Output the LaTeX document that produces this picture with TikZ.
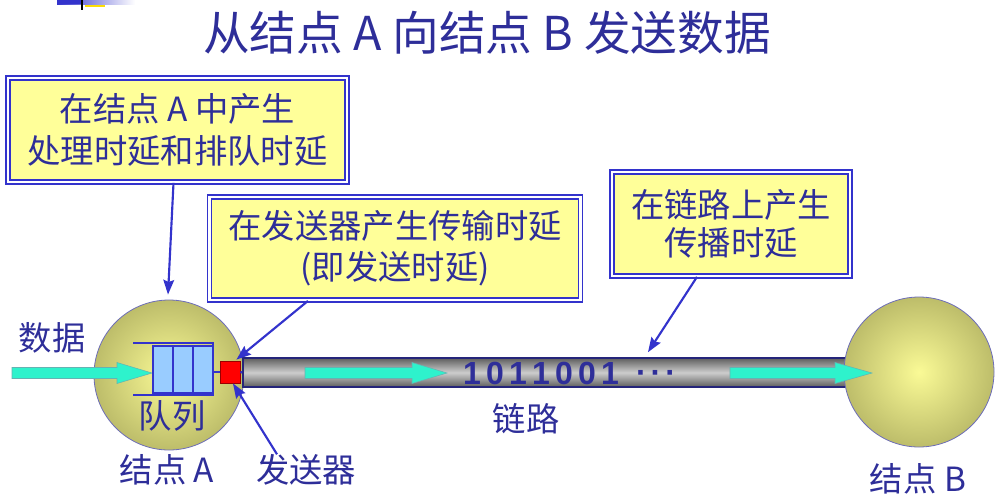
\documentclass[tikz,border=0pt]{standalone}
\usepackage{fontspec}
\setmainfont{Noto Sans CJK SC}
\newfontfamily\bitfont{Liberation Sans}
\usepackage{tikz}
\usetikzlibrary{calc,arrows.meta,positioning}
\definecolor{navy}{HTML}{2E2E99}
\definecolor{lineblue}{HTML}{3333CC}
\definecolor{boxfill}{HTML}{FFFF99}
\definecolor{ballin}{HTML}{FAFA96}
\definecolor{ballout}{HTML}{BDBD6A}
\definecolor{pipedark}{HTML}{5E5E5E}
\definecolor{pipelight}{HTML}{CDCDCD}
\definecolor{flow}{HTML}{2EF2CC}
\definecolor{cell}{HTML}{99CCFF}
\definecolor{logoblue}{HTML}{3333CC}
\tikzset{
  note/.style={draw=lineblue, double=white, double distance=1.6pt, line width=1.3pt, fill=boxfill, text=navy, align=center, font=\fontsize{25}{31}\selectfont, inner sep=0pt},
  ball/.style={circle, draw=navy!70, line width=0.6pt, inner color=ballin, outer color=ballout, minimum size=112.5pt, inner sep=0pt},
  lab/.style={text=navy, font=\fontsize{25}{30}\selectfont, inner sep=0pt},
  pointer/.style={draw=lineblue, line width=1.6pt, -{Stealth[length=11pt, width=8pt, inset=1.5pt]}},
  flowarrow/.style={fill=flow, draw=teal!60, line width=0.4pt},
  qline/.style={draw=lineblue, line width=1.7pt},
  cellbox/.style={draw=lineblue, line width=0.8pt, fill=cell, minimum width=15pt, minimum height=35.25pt, inner sep=0pt},
  bit/.style={text=navy, font=\bitfont\bfseries\fontsize{24}{24}\selectfont, inner sep=0pt},
}
\begin{document}
\begin{tikzpicture}[x=0.75pt, y=-0.75pt]
\useasboundingbox (0,0) rectangle (999,500);
\shade[left color=logoblue, right color=white] (57,0) rectangle (135,4);
\fill[logoblue] (57,0) rectangle (82,4);
\draw[yellow!80!orange, line width=0.8pt] (85,6) -- (105,6);
\draw[black, line width=1.5pt] (82,0) -- (82,10);

\node[text=navy, font=\fontsize{35}{35}\selectfont] (title) at (487,33) {从结点 A 向结点 B 发送数据};

\node[note, minimum width=254.25pt, minimum height=78pt] (procbox) at (177.5,130) {在结点 A 中产生\\处理时延和排队时延};
\node[note, minimum width=278.25pt, minimum height=77.25pt] (sendbox) at (395,248.5) {在发送器产生传输时延\\(即发送时延)};
\node[note, minimum width=178.5pt, minimum height=78pt, font=\fontsize{25}{28.5}\selectfont] (propbox) at (731,224) {在链路上产生\\传播时延};

\node[ball] (nodeA) at (169,375) {};
\node[draw=navy!80!black, line width=1.2pt, top color=pipedark, bottom color=pipedark, middle color=pipelight, minimum width=477.75pt, minimum height=21.75pt, inner sep=0pt] (link) at (561.5,372.5) {};
\node[ball] (nodeB) at (919,372) {};

\foreach \xs/\xh/\xt in {12/117/152, 305/412/447, 730/835/872}
  \filldraw[flowarrow] (\xs,367.5) -- (\xh,367.5) -- (\xh,362.5) -- (\xt,373) -- (\xh,383.5) -- (\xh,378.5) -- (\xs,378.5) -- cycle;

\foreach \i in {0,1,2}
  \node[cellbox] (cell\i) at (163+\i*20,369.5) {};
\draw[qline] (133,343) -| (213,395) -- (133,395);
\node[draw=red!60!black, line width=0.6pt, fill=red, minimum width=15pt, minimum height=16.5pt, inner sep=0pt] (sender) at (230,372) {};
\draw[qline] (213,372) -- (sender.west);
\draw[qline] (sender.east) -- (link.west);

\foreach \b [count=\i from 0] in {1,0,1,1,0,0,1}
  \node[bit] (bit\i) at (472+\i*23,373) {\b};
\node[bit] (dots) at (656,377) {·\kern3pt·\kern3pt·};

\node[lab] (datalab) at (52,338) {数据};
\node[lab] (queuelab) at (172,416) {队列};
\node[lab] (alab) at (167,470) {结点 A};
\node[lab] (sendlab) at (306,470) {发送器};
\node[lab] (linklab) at (526,419) {链路};
\node[lab] (blab) at (918,479) {结点 B};

\draw[pointer] ($(procbox.south)+(-4,0)$) -- ($(nodeA.north)+(-1,-5)$);
\draw[pointer] ($(sendbox.south)+(-87,0)$) -- ($(sender.north east)+(-4,-1)$);
\draw[pointer] ($(sendlab.north)+(-29,0)$) -- ($(sender.south)+(3,0)$);
\draw[pointer] ($(propbox.south)+(-34,0)$) -- ($(link.north)+(86.5,-5)$);
\end{tikzpicture}
\end{document}
